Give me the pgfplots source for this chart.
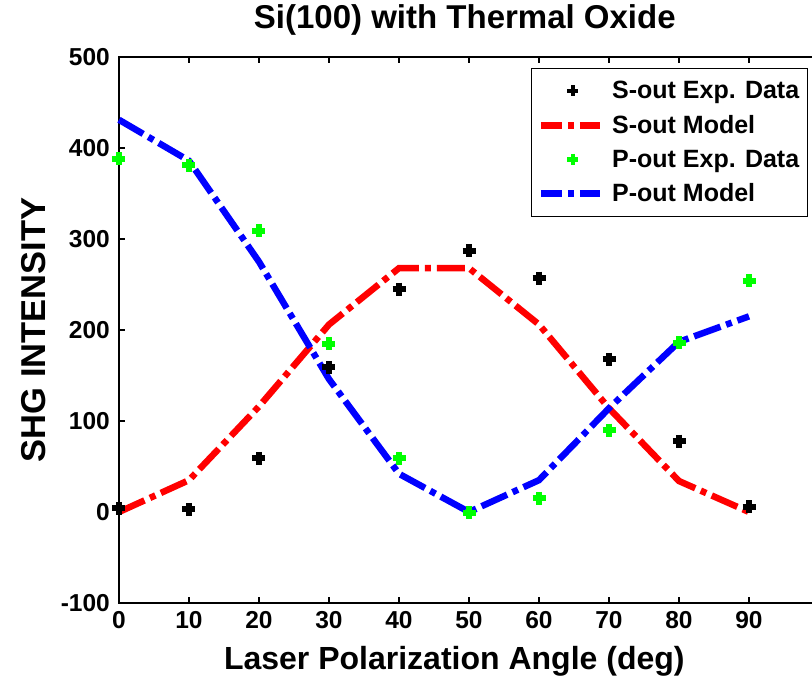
\documentclass[border=0pt]{standalone}
\usepackage{fontspec}
\setmainfont{Liberation Sans}
\usepackage{pgfplots}
\pgfplotsset{compat=1.18}
\begin{document}
\begin{tikzpicture}
\useasboundingbox (-119pt,-76pt) rectangle (693pt,603pt);
\begin{axis}[
 at={(0pt,0pt)}, anchor=south west,
 scale only axis, width=700pt, height=546pt,
 xmin=0, xmax=100, ymin=-100, ymax=500,
 clip=false,
 axis line style={line width=1.5pt},
 tick style={line width=1.2pt, black},
 major tick length=6pt,
 tick align=inside,
 xtick={0,10,...,90}, xticklabels={0,10,20,30,40,50,60,70,80,90},
 ytick={-100,0,...,500}, yticklabels={-100,0,100,200,300,400,500},
 ticklabel style={font=\fontsize{24.5}{28}\selectfont\bfseries},
 xticklabel style={anchor=base, inner sep=0pt, yshift=-26pt},
 yticklabel style={anchor=east, inner sep=0pt, xshift=-9pt},
 xlabel={Laser Polarization Angle (deg)},
 xlabel style={at={(axis description cs:0.479,-0.1227)}, anchor=base, font=\fontsize{32}{38}\selectfont\bfseries},
 ylabel={SHG INTENSITY},
 ylabel style={at={(axis description cs:-0.1057,0.5)}, anchor=base, font=\fontsize{34.5}{40}\selectfont\bfseries},
 title={Si(100) with Thermal Oxide},
 title style={at={(axis description cs:0.494,1.0403)}, anchor=base, font=\fontsize{33}{38}\selectfont\bfseries},
 legend style={at={(axis description cs:0.984,0.98)}, anchor=north east, draw=black, line width=1.2pt,
   font=\fontsize{25}{29}\selectfont\bfseries, row sep=11pt, inner xsep=6pt, inner ysep=11pt, cells={anchor=west},
   /tikz/every odd column/.append style={column sep=7pt}},
 legend image code/.code={\draw[mark repeat=2,mark phase=2,#1] plot coordinates {(0pt,0pt) (32pt,0pt) (59pt,0pt)};},
]
\addlegendimage{only marks, mark=+, mark size=5.5pt, mark options={line width=4.5pt, black, solid}}
\addlegendentry{S-out Exp. Data}
\addlegendimage{red, line width=6.5pt, dash pattern=on 21pt off 6pt on 6pt off 6pt}
\addlegendentry{S-out Model}
\addlegendimage{only marks, mark=+, mark size=5.5pt, mark options={line width=4.5pt, green, solid}}
\addlegendentry{P-out Exp. Data}
\addlegendimage{blue, line width=6.5pt, dash pattern=on 21pt off 6pt on 6pt off 6pt}
\addlegendentry{P-out Model}

\addplot[forget plot, only marks, mark=+, mark size=6.5pt, mark options={line width=6pt, black, solid}] coordinates {
 (0,4) (10,3) (20,59) (30,159) (40,245) (50,287) (60,257) (70,168) (80,78) (90,6)};
\addplot[forget plot, red, line width=6.5pt, dash pattern=on 28pt off 6pt on 6pt off 6pt] coordinates {
 (0,0) (10,35) (20,116) (30,206) (40,268) (50,268) (60,206) (70,114) (80,34) (90,0)};
\addplot[forget plot, only marks, mark=+, mark size=6.5pt, mark options={line width=6pt, green, solid}] coordinates {
 (0,388) (10,381) (20,309) (30,185) (40,59) (50,-1) (60,15) (70,90) (80,186) (90,254)};
\addplot[forget plot, blue, line width=6.5pt, dash pattern=on 28pt off 6pt on 6pt off 6pt] coordinates {
 (0,431) (10,386) (20,275) (30,146) (40,42) (50,0) (60,35) (70,114) (80,187) (90,215)};
\end{axis}
\end{tikzpicture}
\end{document}
